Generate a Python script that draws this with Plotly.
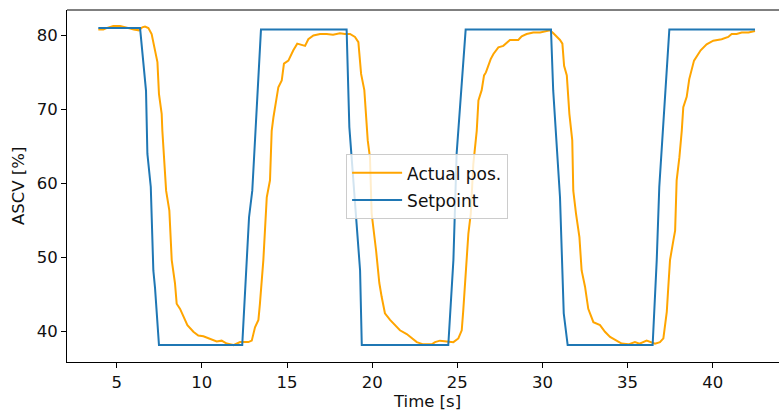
import plotly.graph_objects as go

# Setpoint (time [s], ASCV [%])
sp_time = [3.92, 6.37, 6.72, 6.80, 7.00, 7.15, 7.25, 7.48,
           12.37, 12.77, 12.96, 13.47,
           18.50, 18.66, 19.29, 19.39,
           24.47, 24.77, 24.96, 25.49,
           30.50, 30.63, 31.03, 31.25, 31.48,
           36.47, 36.71, 36.86, 37.45, 42.48]
sp_value = [81.0, 81.0, 72.5, 64.0, 59.5, 48.2, 45.8, 38.1,
            38.1, 55.4, 59.0, 80.8,
            80.8, 67.6, 48.2, 38.1,
            38.1, 49.6, 64.0, 80.8,
            80.8, 72.6, 58.1, 42.4, 38.1,
            38.1, 49.6, 59.5, 80.8, 80.8]

# Actual position (time [s], ASCV [%])
act_time = [3.92, 4.21, 4.40, 4.80, 5.20, 5.60, 6.00, 6.30, 6.50, 6.66, 6.86,
            7.05, 7.20, 7.39, 7.48, 7.64, 7.68, 7.90, 8.09, 8.23, 8.42, 8.52,
            8.72, 8.95, 9.15, 9.50, 9.79, 10.09, 10.48, 10.87, 11.16, 11.46,
            11.85, 12.24, 12.73, 12.93, 13.12, 13.32, 13.41, 13.51, 13.61,
            13.81, 14.00, 14.10, 14.20, 14.49, 14.69, 14.82, 15.08, 15.37,
            15.60, 16.06, 16.25, 16.55, 16.94, 17.33, 17.70, 18.11, 18.40,
            18.70, 18.99, 19.19, 19.35, 19.54, 19.74, 19.87, 19.97, 20.23,
            20.36, 20.42, 20.56, 20.75, 21.05, 21.34, 21.63, 22.03, 22.32,
            22.62, 23.00, 23.50, 23.69, 23.98, 24.38, 24.77, 25.06, 25.26,
            25.35, 25.45, 25.55, 25.65, 25.79, 25.94, 26.14, 26.24, 26.43,
            26.57, 26.68, 26.96, 27.12, 27.41, 27.70, 28.09, 28.58, 28.78,
            29.07, 29.46, 29.86, 30.34, 30.44, 30.64, 30.84, 31.03, 31.17,
            31.27, 31.43, 31.58, 31.75, 31.81, 31.97, 32.17, 32.30, 32.50,
            32.69, 32.99, 33.38, 33.67, 33.97, 34.36, 34.65, 35.05, 35.43,
            35.70, 36.12, 36.61, 36.90, 37.10, 37.30, 37.39, 37.49, 37.69,
            37.79, 37.88, 38.04, 38.18, 38.27, 38.47, 38.62, 38.90, 39.29,
            39.64, 40.03, 40.52, 40.91, 41.11, 41.40, 41.70, 42.10, 42.48]
act_value = [80.8, 80.8, 81.0, 81.3, 81.3, 81.0, 80.8, 80.7, 81.1, 81.2, 81.0,
             80.2, 78.4, 76.4, 72.1, 69.4, 67.1, 59.0, 56.3, 49.6, 46.5, 43.7,
             43.0, 41.7, 40.8, 39.9, 39.4, 39.3, 39.0, 38.6, 38.7, 38.3,
             38.1, 38.5, 38.5, 38.7, 40.5, 41.5, 43.7, 46.9, 49.6,
             58.1, 60.4, 67.1, 68.9, 73.0, 73.9, 76.2, 76.6, 78.0,
             78.9, 78.6, 79.5, 80.0, 80.2, 80.2, 80.1, 80.3, 80.2,
             80.2, 79.8, 79.1, 74.8, 72.6, 65.8, 63.5, 55.9, 50.9,
             48.2, 46.5, 44.6, 42.4, 41.5, 40.8, 40.1, 39.6, 39.0,
             38.5, 38.2, 38.2, 38.5, 38.7, 38.6, 38.5, 39.0, 40.1,
             42.8, 46.0, 49.6, 53.2, 55.9, 62.6, 67.1, 71.2, 72.6,
             74.6, 75.0, 76.8, 77.5, 78.4, 78.6, 79.4, 79.4, 79.9,
             80.2, 80.4, 80.4, 80.7, 80.7, 80.3, 79.9, 79.4, 78.9,
             75.9, 74.6, 69.4, 65.8, 59.0, 55.9, 52.7, 48.2, 46.0,
             43.0, 41.2, 40.8, 39.9, 39.2, 38.7, 38.3, 38.2, 38.5,
             38.3, 38.7, 38.3, 38.5, 39.0, 42.6, 46.0, 49.6, 52.3,
             53.6, 60.4, 63.5, 67.1, 70.3, 71.7, 74.1, 76.6, 78.0,
             78.8, 79.3, 79.5, 79.8, 80.2, 80.2, 80.4, 80.4, 80.6]

x_ticks = [5, 10, 15, 20, 25, 30, 35, 40]
y_ticks = [40, 50, 60, 70, 80]

FONT = "DejaVu Sans"
TXT = "#111111"

fig = go.Figure()
fig.add_trace(go.Scatter(x=act_time, y=act_value, mode="lines", name="Actual pos.",
                         legendgroup="a",
                         line=dict(color="#FFA500", width=2)))
fig.add_trace(go.Scatter(x=sp_time, y=sp_value, mode="lines", name="Setpoint",
                         legendgroup="b",
                         line=dict(color="#1f77b4", width=2)))

fig.update_layout(
    width=779, height=410,
    margin=dict(l=67, r=0, t=10, b=48),
    paper_bgcolor="white", plot_bgcolor="white",
    font=dict(family=FONT, size=16.5, color=TXT),
    showlegend=True,
    legend=dict(x=0.392, y=0.59, xanchor="left", yanchor="top",
                itemwidth=50, tracegroupgap=2,
                bgcolor="rgba(255,255,255,0.8)", bordercolor="#cccccc", borderwidth=1,
                font=dict(family=FONT, size=17, color=TXT)),
    xaxis=dict(range=[2.08, 43.89], tickvals=x_ticks, ticks="outside", ticklen=5,
               tickwidth=1, tickcolor="black", showgrid=False, zeroline=False,
               showline=True, linecolor="black", linewidth=1,
               tickfont=dict(family=FONT, size=16.5, color=TXT)),
    yaxis=dict(range=[35.81, 83.45], tickvals=y_ticks, ticks="outside", ticklen=5,
               tickwidth=1, tickcolor="black", showgrid=False, zeroline=False,
               showline=True, linecolor="black", linewidth=1,
               tickfont=dict(family=FONT, size=16.5, color=TXT)),
    shapes=[dict(type="line", xref="paper", yref="paper", x0=0, x1=1, y0=1, y1=1,
                 line=dict(color="black", width=1))],
    annotations=[
        dict(text="Time [s]", xref="paper", yref="paper", x=0.5056, y=0,
             xanchor="center", yanchor="middle", yshift=-39.5, showarrow=False,
             font=dict(family=FONT, size=16.5, color=TXT)),
        dict(text="ASCV [%]", xref="paper", yref="paper", x=0, y=0.5,
             xanchor="center", yanchor="middle", xshift=-49, textangle=-90,
             showarrow=False, font=dict(family=FONT, size=16.5, color=TXT)),
    ],
)

fig.write_html("out.html")
